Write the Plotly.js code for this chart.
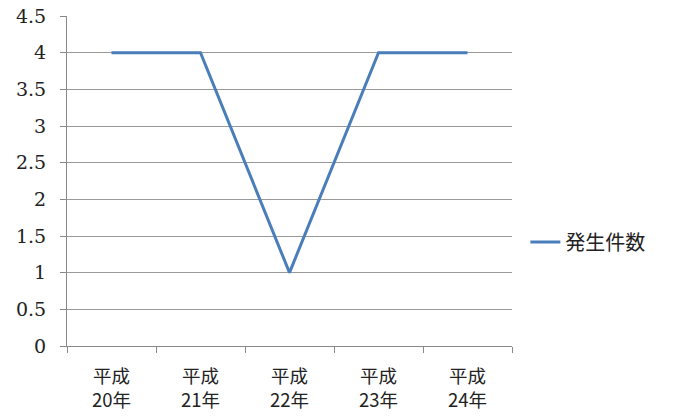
<!DOCTYPE html>
<html><head><meta charset="utf-8">
<script src="https://cdn.plot.ly/plotly-3.0.1.min.js"></script>
<style>html,body{margin:0;padding:0;background:#fff;}</style>
</head><body>
<div id="chart" style="width:678px;height:418px;"></div>
<script>
const categories = ["平成<br>20年", "平成<br>21年", "平成<br>22年", "平成<br>23年", "平成<br>24年"];
const counts = [4, 4, 1, 4, 4];
const seriesName = "発生件数";
const yTicks = [0, 0.5, 1, 1.5, 2, 2.5, 3, 3.5, 4, 4.5];
const yTickLabels = ["0", "0.5", "1", "1.5", "2", "2.5", "3", "3.5", "4", "4.5"];

Plotly.newPlot("chart", [{
  x: categories, y: counts, name: seriesName, type: "scatter", mode: "lines",
  line: {color: "#4a7ebb", width: 3}
}], {
  width: 678, height: 418,
  margin: {l: 67, r: 166, t: 16, b: 72},
  paper_bgcolor: "#fff", plot_bgcolor: "#fff",
  font: {family: "DejaVu Serif, serif", size: 19, color: "#222"},
  showlegend: true,
  legend: {x: 1.03, y: 0.315, xanchor: "left", yanchor: "middle",
    font: {family: "Noto Sans CJK JP", size: 20, color: "#222"}},
  xaxis: {type: "category", range: [-0.5, 4.5], tickson: "boundaries",
    ticks: "outside", ticklen: 6, tickcolor: "#888", showgrid: false,
    showline: true, linecolor: "#888", linewidth: 1, zeroline: false,
    ticklabelstandoff: 14,
    tickfont: {family: "Noto Sans CJK JP", size: 18.5, color: "#222"}},
  yaxis: {range: [0, 4.5], tickvals: yTicks, ticktext: yTickLabels,
    ticks: "outside", ticklen: 6, tickcolor: "#888",
    showgrid: true, gridcolor: "#999", gridwidth: 1,
    showline: true, linecolor: "#888", zeroline: false,
    ticklabelstandoff: 10,
    tickfont: {family: "DejaVu Serif, serif", size: 19, color: "#222"}}
}, {displayModeBar: false, staticPlot: true});
</script>
</body></html>
